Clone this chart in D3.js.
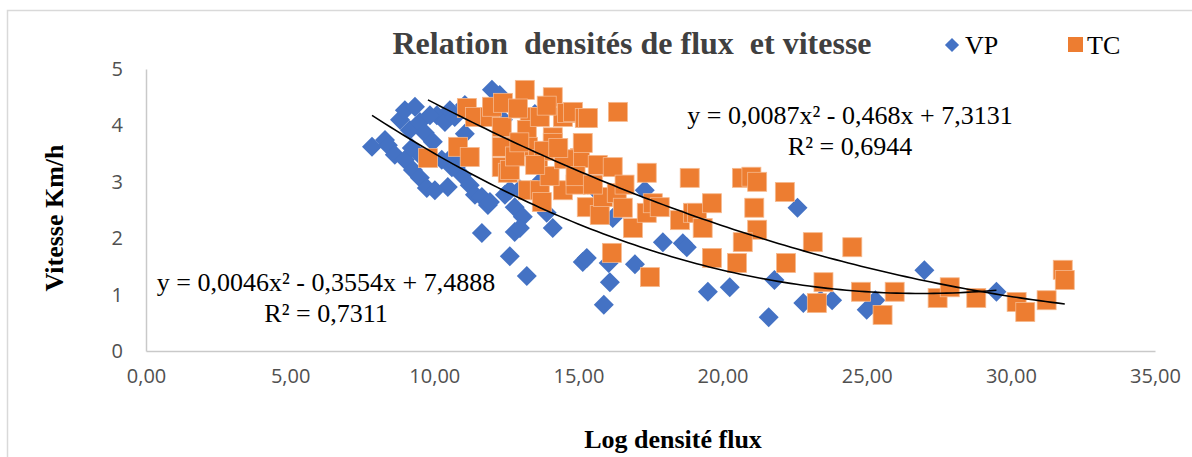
<!DOCTYPE html>
<html>
<head>
<meta charset="utf-8">
<script src="https://cdn.jsdelivr.net/npm/d3@7"></script>
<style>
  html, body { margin: 0; padding: 0; background: #fff; }
  svg { display: block; }
</style>
</head>
<body>
<svg id="chart" width="1192" height="457"></svg>
<script>
// ---------- data ----------
const chartTitle = "Relation  densités de flux  et vitesse";
const xTitle = "Log densité flux";
const yTitle = "Vitesse Km/h";
const seriesNames = ["VP", "TC"];
const xTickValues = [0, 5, 10, 15, 20, 25, 30, 35];
const yTickValues = [0, 1, 2, 3, 4, 5];

// VP series : [log densité flux, vitesse]
const vpPoints = [
  [7.84,3.62],[8.29,3.74],[8.39,3.65],[8.63,3.48],[8.81,4.10],[8.98,4.27],[9.15,3.92],[9.33,4.33],
  [9.50,4.06],[9.67,3.87],[8.98,3.39],[9.22,3.60],[9.26,3.21],[9.50,3.07],[9.74,2.89],[9.95,3.71],
  [10.09,4.18],[10.37,4.06],[10.54,4.27],[10.82,3.30],[10.96,3.12],[11.10,4.33],[11.23,2.94],[11.41,2.77],
  [11.65,2.73],[11.86,2.59],[12.00,4.63],[12.27,4.54],[12.38,4.10],[12.45,2.77],[12.62,2.85],[12.79,2.55],
  [10.61,3.44],[10.26,3.39],[9.57,3.44],[9.85,4.18],[10.71,4.15],[11.06,3.85],[10.47,2.91],[11.93,2.64],
  [10.02,2.85],[10.61,3.26],[11.06,4.36],[11.65,2.09],[12.62,1.68],[12.79,2.11],[13.21,1.33],[13.07,2.38],
  [12.97,2.18],[13.90,2.45],[14.11,2.18],[13.73,3.03],[15.67,2.82],[17.30,2.85],[12.97,2.87],[15.15,1.58],
  [15.29,1.65],[16.05,1.56],[16.09,1.22],[15.88,0.82],[16.96,1.54],[17.93,1.93],[18.62,1.91],[18.76,1.84],
  [16.19,2.36],[14.18,3.60],[14.88,3.25],[13.49,4.20],[15.33,2.95],
  [19.49,1.05],[20.25,1.13],[21.60,0.60],[21.80,1.26],[22.60,2.54],[22.80,0.85],[23.40,0.90],[23.80,0.90],
  [25.00,0.73],[25.30,0.90],[27.00,1.43],[29.50,1.05]
];

// TC series : [log densité flux, vitesse]
const tcPoints = [
  [9.78,3.42],[10.82,3.62],[11.13,4.31],[11.23,3.44],[11.41,4.15],[11.93,4.15],[12.00,4.33],[12.38,4.40],
  [12.34,3.97],[12.34,3.62],[12.34,3.26],[12.55,3.16],[12.62,3.21],[13.14,4.63],[13.31,4.15],[13.21,3.92],
  [13.25,3.62],[13.25,2.85],[13.66,4.15],[13.66,2.85],[13.73,2.64],[14.11,4.50],[14.11,3.79],[14.11,3.69],
  [14.46,4.15],[14.46,2.85],[14.60,4.22],[14.81,4.24],[15.05,3.42],[15.15,3.69],[15.22,4.13],[15.33,4.13],
  [15.29,2.55],[15.67,3.30],[15.74,2.41],[15.85,2.73],[16.19,3.26],[16.33,2.80],[16.37,4.24],[16.54,2.54],
  [16.89,2.18],[17.37,3.16],[17.37,2.45],[17.58,2.62],[17.82,2.55],[18.52,2.32],[18.86,3.07],[18.97,2.45],
  [19.11,2.45],[19.31,2.18],[19.63,2.62],[19.63,1.65],[16.16,1.74],[17.48,1.31],[20.50,1.56],[20.67,3.07],
  [21.00,3.09],[21.20,3.00],[21.10,2.54],[21.20,2.15],[20.70,1.93],[22.16,2.82],[22.20,1.56],[23.13,1.93],
  [23.27,0.85],[23.50,1.22],[24.50,1.84],[24.80,1.05],[25.55,0.64],[25.97,1.05],[27.46,0.94],[27.88,1.13],
  [28.80,0.94],[30.20,0.87],[30.50,0.69],[31.24,0.90],[31.80,1.44],[31.87,1.26],
  [12.80,3.45],[13.60,3.40],[14.00,3.10],[14.50,3.40],[14.90,2.95],[13.80,3.55],[12.90,4.30],[13.90,4.35],
  [14.90,3.10],[16.60,2.95],[15.50,2.95],[13.50,3.30],[14.30,3.60],[12.95,3.70]
];

// polynomial trend coefficients [a, b, c] : y = a x² + b x + c
const vpTrend = [0.0087, -0.468, 7.3131];
const tcTrend = [0.0046, -0.3554, 7.4888];
const trendLabelUpper = ["y = 0,0087x² - 0,468x + 7,3131", "R² = 0,6944"];
const trendLabelLower = ["y = 0,0046x² - 0,3554x + 7,4888", "R² = 0,7311"];

// ---------- drawing ----------
const svg = d3.select("#chart");
const W = 1192, H = 457;
const blue = "#4472C4", orange = "#ED7D31";
const serif = "'Liberation Serif', 'Times New Roman', serif";
const sans = "'Open Sans', 'Liberation Sans', sans-serif";

// outer chart border
svg.append("rect").attr("x", 7.5).attr("y", 10.5).attr("width", W).attr("height", H)
  .attr("fill", "#fff").attr("stroke", "#d9d9d9").attr("stroke-width", 1.5);

const x = d3.scaleLinear().domain([0, 35]).range([146, 1155]);
const y = d3.scaleLinear().domain([0, 5]).range([351, 69]);

const loc = d3.formatLocale({decimal: ",", thousands: " ", grouping: [3], currency: ["", "€"]});
const fx = loc.format(".2f");

// axes
const xAxis = d3.axisBottom(x).tickValues(xTickValues).tickFormat(fx).tickSize(0).tickPadding(18);
const gx = svg.append("g").attr("transform", `translate(0,${y(0)})`).call(xAxis);
gx.select(".domain").attr("stroke", "#c9c9c9").attr("stroke-width", 1.5);
gx.selectAll("text").attr("font-family", sans).attr("font-size", 20).attr("fill", "#505050");

const yAxis = d3.axisLeft(y).tickValues(yTickValues).tickFormat(d3.format("d")).tickSize(0).tickPadding(23);
const gy = svg.append("g").attr("transform", `translate(${x(0)},0)`).call(yAxis);
gy.select(".domain").attr("stroke", "#c9c9c9").attr("stroke-width", 1.5);
gy.selectAll("text").attr("font-family", sans).attr("font-size", 20).attr("fill", "#505050");

// markers
const diamond = d3.symbol().type(d3.symbolSquare).size(200);
svg.append("g").selectAll("path").data(vpPoints).join("path")
  .attr("d", diamond)
  .attr("transform", d => `translate(${x(d[0])},${y(d[1])}) rotate(45)`)
  .attr("fill", blue);

const sq = 19;
svg.append("g").selectAll("rect").data(tcPoints).join("rect")
  .attr("x", d => x(d[0]) - sq / 2).attr("y", d => y(d[1]) - sq / 2)
  .attr("width", sq).attr("height", sq)
  .attr("fill", orange).attr("stroke", "#f6b98e").attr("stroke-width", 0.8);

// trend lines
function trendPath(coef, pts) {
  const [x0, x1] = d3.extent(pts, d => d[0]);
  const samples = d3.range(0, 101).map(i => x0 + (x1 - x0) * i / 100);
  return d3.line().x(v => x(v)).y(v => y(coef[0] * v * v + coef[1] * v + coef[2]))(samples);
}
svg.append("path").attr("d", trendPath(vpTrend, vpPoints))
  .attr("fill", "none").attr("stroke", "#000").attr("stroke-width", 1.6);
svg.append("path").attr("d", trendPath(tcTrend, tcPoints))
  .attr("fill", "none").attr("stroke", "#000").attr("stroke-width", 1.6);

// trend labels
function label(lines, cx, y0) {
  const t = svg.append("text").attr("font-family", serif).attr("font-size", 26).attr("fill", "#000")
    .attr("text-anchor", "middle");
  lines.forEach((s, i) => t.append("tspan").attr("x", cx).attr("y", y0 + i * 31).text(s));
}
label(trendLabelUpper, 850, 124);
label(trendLabelLower, 326, 291);

// title
svg.append("text").attr("x", 632).attr("y", 54).attr("text-anchor", "middle")
  .attr("font-family", serif).attr("font-weight", "bold").attr("font-size", 32)
  .attr("fill", "#404040").style("white-space", "pre").text(chartTitle);

// legend
svg.append("path").attr("d", d3.symbol().type(d3.symbolSquare).size(100))
  .attr("transform", "translate(952,45) rotate(45)").attr("fill", blue);
svg.append("text").attr("x", 965).attr("y", 54).attr("font-family", serif).attr("font-size", 26)
  .attr("fill", "#000").text(seriesNames[0]);
svg.append("rect").attr("x", 1068).attr("y", 37).attr("width", 15).attr("height", 15).attr("fill", orange);
svg.append("text").attr("x", 1087).attr("y", 54).attr("font-family", serif).attr("font-size", 26)
  .attr("fill", "#000").text(seriesNames[1]);

// axis titles
svg.append("text").attr("x", 673).attr("y", 448).attr("text-anchor", "middle")
  .attr("font-family", serif).attr("font-weight", "bold").attr("font-size", 26).attr("fill", "#000")
  .text(xTitle);
svg.append("text").attr("transform", "translate(63,218) rotate(-90)").attr("text-anchor", "middle")
  .attr("font-family", serif).attr("font-weight", "bold").attr("font-size", 26).attr("fill", "#000")
  .text(yTitle);
</script>
</body>
</html>
